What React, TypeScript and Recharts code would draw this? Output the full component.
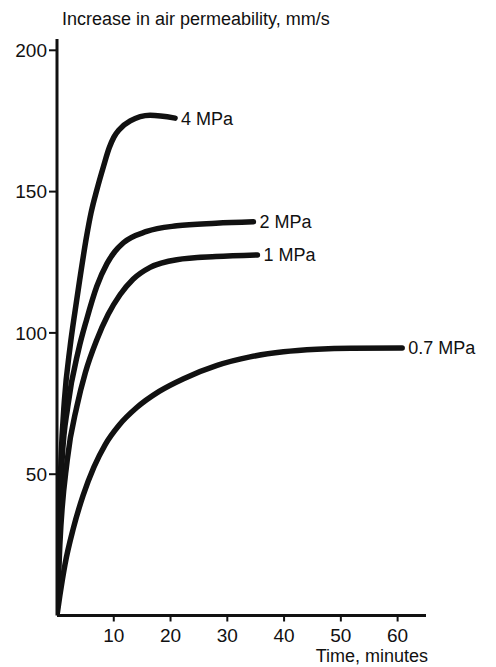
import React from "react";
import { LineChart, Line, XAxis, YAxis } from "recharts";

// time (minutes) / increase in air permeability (mm/s)
const mpa4 = [
  { t: 0, v: 0 },
  { t: 0.3, v: 28 },
  { t: 0.7, v: 55 },
  { t: 1.3, v: 76 },
  { t: 2.3, v: 95 },
  { t: 3.2, v: 108 },
  { t: 4, v: 118.8 },
  { t: 5.2, v: 134 },
  { t: 6, v: 142.5 },
  { t: 7, v: 150.5 },
  { t: 8.2, v: 159 },
  { t: 9.2, v: 165.5 },
  { t: 10, v: 169.2 },
  { t: 11, v: 172 },
  { t: 12.9, v: 175 },
  { t: 16.4, v: 177 },
  { t: 20.8, v: 176 },
];

const mpa2 = [
  { t: 0, v: 0 },
  { t: 0.4, v: 30 },
  { t: 0.9, v: 55 },
  { t: 1.9, v: 74 },
  { t: 3.8, v: 94 },
  { t: 5.2, v: 104.6 },
  { t: 7, v: 116.4 },
  { t: 8.8, v: 124.5 },
  { t: 10.2, v: 128.8 },
  { t: 11.7, v: 131.9 },
  { t: 15.8, v: 135.9 },
  { t: 21.1, v: 137.9 },
  { t: 28, v: 138.8 },
  { t: 34.6, v: 139.3 },
];

const mpa1 = [
  { t: 0, v: 0 },
  { t: 0.5, v: 25 },
  { t: 1.8, v: 55 },
  { t: 3.5, v: 74 },
  { t: 5, v: 86 },
  { t: 7, v: 97.5 },
  { t: 9, v: 106.5 },
  { t: 11.1, v: 113.5 },
  { t: 13.4, v: 119 },
  { t: 16.4, v: 123.2 },
  { t: 21.1, v: 125.9 },
  { t: 28, v: 127 },
  { t: 35.3, v: 127.6 },
];

const mpa07 = [
  { t: 0, v: 0 },
  { t: 0.5, v: 7 },
  { t: 1.4, v: 18 },
  { t: 2.9, v: 31 },
  { t: 4.6, v: 42.5 },
  { t: 6.5, v: 52.5 },
  { t: 8.5, v: 60.5 },
  { t: 11, v: 67.5 },
  { t: 14, v: 73.5 },
  { t: 18, v: 79.3 },
  { t: 22.3, v: 83.8 },
  { t: 28.2, v: 88.5 },
  { t: 34, v: 91.5 },
  { t: 39.9, v: 93.3 },
  { t: 45.8, v: 94.2 },
  { t: 51.7, v: 94.6 },
  { t: 60.8, v: 94.7 },
];

const series = [
  { name: "4 MPa", data: mpa4 },
  { name: "2 MPa", data: mpa2 },
  { name: "1 MPa", data: mpa1 },
  { name: "0.7 MPa", data: mpa07 },
];

const xTicks = [10, 20, 30, 40, 50, 60];
const yTicks = [50, 100, 150, 200];

const FONT = "'Liberation Sans', Arial, Helvetica, sans-serif";
const INK = "#111";

// only the last point of each curve gets its pressure label
const endLabel = (name: string, last: number) => (props: any) => {
  const { x, y, index } = props;
  if (index !== last) return null;
  return (
    <text x={x + 6} y={y} dy="0.36em" fontSize={18} fontFamily={FONT} fill={INK}>
      {name}
    </text>
  );
};

export default function App() {
  return (
    <div style={{ position: "absolute", left: 0, top: 0, width: 496, height: 667, background: "#fff" }}>
      <LineChart width={496} height={667} margin={{ top: 39, right: 70, left: 7, bottom: 21.5 }}>
        <XAxis
          type="number"
          dataKey="t"
          domain={[0, 65]}
          ticks={xTicks}
          allowDataOverflow
          height={30}
          tickSize={6}
          tickMargin={7}
          axisLine={{ stroke: INK, strokeWidth: 3 }}
          tickLine={{ stroke: INK, strokeWidth: 2 }}
          tick={{ fill: INK, fontSize: 19, fontFamily: FONT }}
        />
        <YAxis
          type="number"
          domain={[0, 204]}
          ticks={yTicks}
          allowDataOverflow
          width={50}
          tickSize={8}
          tickMargin={2}
          axisLine={{ stroke: INK, strokeWidth: 3 }}
          tickLine={{ stroke: INK, strokeWidth: 2 }}
          tick={{ fill: INK, fontSize: 19, fontFamily: FONT }}
        />
        {series.map((s) => (
          <Line
            key={s.name}
            data={s.data}
            dataKey="v"
            type="monotone"
            stroke={INK}
            strokeWidth={5.5}
            strokeLinecap="round"
            dot={false}
            activeDot={false}
            isAnimationActive={false}
            label={endLabel(s.name, s.data.length - 1)}
          />
        ))}
      </LineChart>
      <svg width={496} height={667} style={{ position: "absolute", left: 0, top: 0, pointerEvents: "none" }}>
        <text x={62} y={25} fontSize={18} fontFamily={FONT} fill={INK}>
          Increase in air permeability, mm/s
        </text>
        <text x={428} y={662} fontSize={18} fontFamily={FONT} fill={INK} textAnchor="end">
          Time, minutes
        </text>
      </svg>
    </div>
  );
}
